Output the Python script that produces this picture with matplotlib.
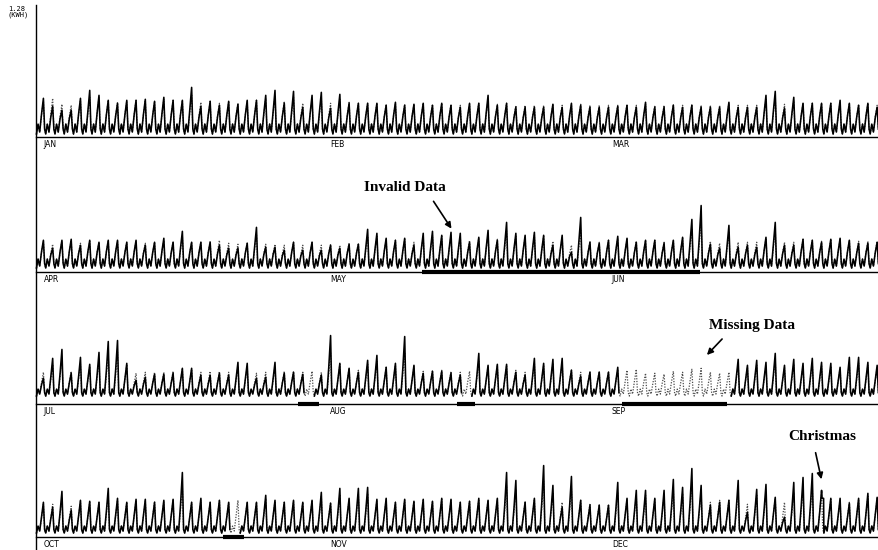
import numpy as np
import matplotlib
matplotlib.use("Agg")
import matplotlib.pyplot as plt
import matplotlib.patches as mpatches

# ---------------- data (kWh x 100) ----------------
months = [["JAN", "FEB", "MAR"], ["APR", "MAY", "JUN"],
          ["JUL", "AUG", "SEP"], ["OCT", "NOV", "DEC"]]

nan = np.nan
actual_q1 = [39,31,27,27,39,47,42,37,34,37,37,38,36,40,37,37,50,31,36,32,36,33,37,37,42,47,34,46,
             30,42,45,29,43,34,34,34,34,32,35,32,33,34,32,34,32,30,34,34,42,32,34,30,30,30,30,33,30,34,32,
             30,30,30,31,32,30,35,30,30,32,30,32,30,30,30,35,30,30,30,42,46,29,40,34,34,34,34,37,34,32,34,30]
pred_q1 = [36,39,33,32,37,40,40,37,35,36,37,37,36,38,37,37,42,35,36,34,35,34,36,37,39,41,36,40,
           34,38,39,34,38,35,34,34,34,33,34,33,33,34,33,34,33,32,33,34,37,33,34,32,32,32,32,33,32,33,33,
           32,32,32,32,33,32,33,32,32,33,32,33,32,32,32,34,32,32,32,38,40,33,37,34,34,34,34,35,34,33,34,32]

actual_q2 = [32,24,32,33,27,32,30,32,32,30,32,27,30,34,30,41,30,30,30,27,24,24,29,45,25,25,22,30,
             22,30,22,27,24,28,28,43,39,34,32,34,27,39,41,37,40,39,30,35,42,32,50,39,37,40,37,27,37,20,
             55,30,29,32,36,34,30,32,32,29,32,35,53,67,28,24,47,25,27,25,35,50,27,27,33,32,30,33,34,32,29,29,30]
pred_q2 = [31,28,31,32,29,31,30,31,31,30,31,29,30,32,30,36,30,30,31,32,29,28,29,38,28,28,27,30,
           27,30,27,28,27,29,29,36,36,33,32,33,30,36,37,36,37,36,32,34,38,33,42,37,36,37,36,31,35,27,
           42,31,30,32,34,33,31,32,32,30,32,34,44,50,31,29,40,30,30,30,34,42,30,30,33,32,31,33,33,32,31,31,31]

actual_q3 = [26,46,55,31,47,40,52,63,64,41,24,27,30,30,31,36,36,29,29,31,29,42,41,26,27,42,31,32,
             30,nan,29,69,41,36,32,44,49,37,41,68,39,31,33,33,31,29,nan,51,39,40,40,32,29,46,41,45,46,34,28,
             32,32,32,37,nan,nan,nan,nan,nan,nan,nan,nan,nan,nan,nan,nan,
             45,39,44,42,51,39,45,41,46,42,41,37,47,47,42,39]
pred_q3 = [32,40,45,33,40,38,44,50,52,40,31,32,32,32,33,35,35,32,33,33,32,38,38,31,32,38,33,33,
           32,33,32,52,40,36,34,40,43,37,39,52,38,33,34,34,33,32,33,44,38,39,39,34,32,41,39,41,42,35,32,
           33,33,33,35,34,35,31,31,30,33,32,35,36,32,31,32,
           40,37,40,39,44,37,40,38,41,39,38,36,41,41,39,37]

actual_q4 = [35,30,46,27,37,36,35,49,39,35,38,38,35,37,38,65,35,39,35,37,35,nan,35,35,42,37,35,37,
             35,37,45,34,49,39,49,50,38,39,35,38,36,38,36,39,38,35,36,39,37,39,65,57,35,39,72,52,30,61,37,
             32,32,32,55,39,47,47,39,47,58,50,69,52,32,35,37,57,25,48,53,40,20,55,60,64,47,39,39,34,39,44,40]
pred_q4 = [33,33,40,31,36,35,35,42,37,35,37,37,36,36,37,50,35,37,35,37,35,37,35,35,39,36,35,36,
           35,36,41,35,43,38,43,44,37,38,35,37,36,37,36,38,37,35,36,38,37,38,52,48,36,38,57,45,35,49,37,
           34,33,33,45,38,42,42,38,42,48,44,55,45,35,37,37,47,33,43,45,39,35,45,48,52,45,38,37,35,38,41,39]

actual = [actual_q1, actual_q2, actual_q3, actual_q4]
predicted = [pred_q1, pred_q2, pred_q3, pred_q4]

# night trough and daytime shoulder level per row (kWh x 100)
trough = [3, 4, 8, 4]
shoulder = [13, 13, 15, 11]

# thick baseline bars (day ranges)
missing_bars = [[], [], [(28.3, 30.5), (45.5, 47.4), (63.3, 74.6)], [(20.2, 22.4)]]
invalid_bars = [[], [(41.7, 71.7)], [], []]
christmas_hold = {3: (84, 39)}   # row: (day, level held after the peak)

# ---------------- layout ----------------
W, H = 879, 550
fig = plt.figure(figsize=(W / 100, H / 100), dpi=100)
baselines = [137, 272, 404, 537]
x0, x1 = 36, 879
ax_h = 127


def day_profile(peaks, t, s, hold=None):
    xs, ys = [], []
    for i, p in enumerate(peaks):
        offs = [0.05, 0.22, 0.40, 0.60, 0.80, 0.93]
        if np.isnan(p):
            vals = [nan] * 6
        else:
            vals = [t, s, t + 2, s + (p - s) * 0.4, p, (t + s) / 2]
        if hold is not None and hold[0] == i:
            offs = offs[:5] + [0.86, 1.02]
            vals = vals[:5] + [hold[1], hold[1]]
        xs += [i + o for o in offs]
        ys += [v / 100.0 for v in vals]
    return np.array(xs), np.array(ys)


for r in range(4):
    b = baselines[r]
    ax = fig.add_axes([x0 / W, (H - b) / H, (x1 - x0) / W, ax_h / H])
    n = len(actual[r])
    ax.set_xlim(0, n)
    ax.set_ylim(0, 1.28)
    ax.axis("off")
    px, py = day_profile(predicted[r], trough[r], shoulder[r])
    ax.plot(px, py, color="0.3", lw=0.9, ls=(0, (1, 1.2)), clip_on=False)
    axx, axy = day_profile(actual[r], trough[r], shoulder[r], christmas_hold.get(r))
    ax.plot(axx, axy, color="black", lw=1.15, clip_on=False)
    ax.plot([0, n], [0, 0], color="black", lw=1.0, clip_on=False)
    for a, c in missing_bars[r] + invalid_bars[r]:
        ax.plot([a, c], [0, 0], color="black", lw=3.0, solid_capstyle="butt", clip_on=False)
    for k, lab in enumerate(months[r]):
        ax.text([0.009, 0.349, 0.683][k], -0.022, lab, transform=ax.transAxes,
                fontsize=5.5, va="top", ha="left", family="DejaVu Sans")

# vertical axis line
fig.add_artist(plt.Line2D([x0 / W, x0 / W], [0, 1 - 5 / H], color="black", lw=1.0))
fig.text(8 / W, 1 - 6 / H, "1.28\n(KWH)", fontsize=5, family="DejaVu Sans Mono",
         va="top", ha="left", linespacing=1.0)


def note(text, txy, tail, head):
    fig.text(txy[0] / W, 1 - txy[1] / H, text, fontsize=11, fontweight="bold",
             family="Liberation Serif", ha="center", va="center")
    fig.add_artist(mpatches.FancyArrowPatch(
        (tail[0] / W, 1 - tail[1] / H), (head[0] / W, 1 - head[1] / H),
        transform=fig.transFigure, arrowstyle="-|>", mutation_scale=9,
        color="black", lw=1.2))


note("Invalid Data", (405, 187), (432, 199), (453, 231))
note("Missing Data", (752, 325), (724, 337), (705, 357))
note("Christmas", (822, 437), (815, 450), (822, 482))

fig.savefig("out.png", dpi=100)
